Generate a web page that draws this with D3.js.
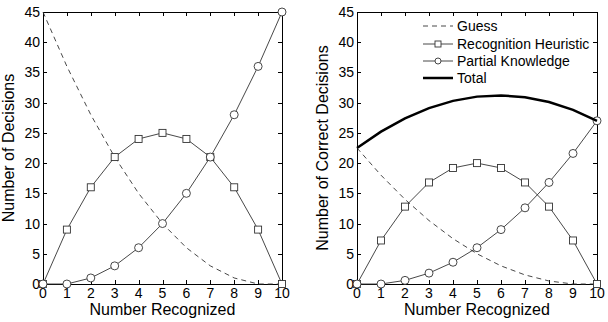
<!DOCTYPE html>
<html><head><meta charset="utf-8">
<script src="https://cdn.jsdelivr.net/npm/d3@7"></script>
<style>body{margin:0;background:#fff}svg{display:block}text{font-family:"Liberation Sans",Arial,sans-serif}</style>
</head><body><svg id="c" width="608" height="322"></svg>
<script>
const nRecognized = [0,1,2,3,4,5,6,7,8,9,10];
const guessCount = [45,36,28,21,15,10,6,3,1,0,0];
const recogCount = [0,9,16,21,24,25,24,21,16,9,0];
const partialCount = [0,0,1,3,6,10,15,21,28,36,45];
const guessCorrect = [22.5,18,14,10.5,7.5,5,3,1.5,0.5,0,0];
const recogCorrect = [0,7.2,12.8,16.8,19.2,20,19.2,16.8,12.8,7.2,0];
const partialCorrect = [0,0,0.6,1.8,3.6,6,9,12.6,16.8,21.6,27];
const totalCorrect = [22.5,25.2,27.4,29.1,30.3,31,31.2,30.9,30.1,28.8,27];
const yTicks = [0,5,10,15,20,25,30,35,40,45];
const xTicks = [0,1,2,3,4,5,6,7,8,9,10];
const legendLabels = ["Guess","Recognition Heuristic","Partial Knowledge","Total"];

const svg = d3.select("#c");
const lineCol = "#333";

function panel(x0, x1, yLabel, series) {
  const top = 12, bottom = 284;
  const x = d3.scaleLinear().domain([0,10]).range([x0,x1]);
  const y = d3.scaleLinear().domain([0,45]).range([bottom,top]);
  const g = svg.append("g");
  const tl = 4;
  const ax = g.append("g").attr("stroke","#000").attr("stroke-width",1);
  xTicks.forEach(t=>{
    const px = Math.round(x(t))+0.5;
    ax.append("line").attr("x1",px).attr("x2",px).attr("y1",bottom).attr("y2",bottom-tl);
    ax.append("line").attr("x1",px).attr("x2",px).attr("y1",top).attr("y2",top+tl);
  });
  yTicks.forEach(t=>{
    const py = Math.round(y(t))+0.5;
    ax.append("line").attr("x1",x0).attr("x2",x0+tl).attr("y1",py).attr("y2",py);
    ax.append("line").attr("x1",x1).attr("x2",x1-tl).attr("y1",py).attr("y2",py);
  });
  g.append("rect").attr("x",Math.round(x0)+0.5).attr("y",top+0.5).attr("width",Math.round(x1)-Math.round(x0)).attr("height",bottom-top)
    .attr("fill","none").attr("stroke","#000");
  xTicks.forEach(t=>{
    g.append("text").attr("x",x(t)).attr("y",bottom+14).attr("text-anchor","middle").attr("font-size",14).text(t);
  });
  yTicks.forEach(t=>{
    g.append("text").attr("x",x0-3).attr("y",y(t)+5).attr("text-anchor","end").attr("font-size",14).text(t);
  });
  g.append("text").attr("x",(x0+x1)/2).attr("y",bottom+31).attr("text-anchor","middle").attr("font-size",16).text("Number Recognized");
  g.append("text").attr("transform",`translate(${x0-29},${(top+bottom)/2}) rotate(-90)`).attr("text-anchor","middle").attr("font-size",16).text(yLabel);

  const line = d3.line().x((d,i)=>x(nRecognized[i])).y(d=>y(d));
  series.forEach(s=>{
    g.append("path").attr("d",line(s.values)).attr("fill","none").attr("stroke", s.bold?"#000":lineCol)
      .attr("stroke-width", s.bold?2.5:0.9).attr("stroke-dasharray", s.dash?"5,4":null);
    if (s.marker==="square") {
      g.selectAll(null).data(s.values).enter().append("rect")
        .attr("x",(d,i)=>x(nRecognized[i])-3.5).attr("y",d=>y(d)-3.5).attr("width",7).attr("height",7)
        .attr("fill","#fff").attr("stroke",lineCol).attr("stroke-width",0.9);
    } else if (s.marker==="circle") {
      g.selectAll(null).data(s.values).enter().append("circle")
        .attr("cx",(d,i)=>x(nRecognized[i])).attr("cy",d=>y(d)).attr("r",4)
        .attr("fill","#fff").attr("stroke",lineCol).attr("stroke-width",0.9);
    }
  });
  return {x,y,g};
}

panel(43, 282, "Number of Decisions", [
  {values:guessCount, dash:true},
  {values:recogCount, marker:"square"},
  {values:partialCount, marker:"circle"}
]);
panel(357, 597, "Number of Correct Decisions", [
  {values:guessCorrect, dash:true},
  {values:recogCorrect, marker:"square"},
  {values:partialCorrect, marker:"circle"},
  {values:totalCorrect, bold:true}
]);

const lg = svg.append("g");
const ly = [26,44,61,78];
legendLabels.forEach((lab,i)=>{
  const yy = ly[i];
  const l = lg.append("line").attr("x1",423).attr("x2",453).attr("y1",yy).attr("y2",yy)
    .attr("stroke", i===3?"#000":lineCol).attr("stroke-width", i===3?2.5:0.9);
  if (i===0) l.attr("stroke-dasharray","5,4");
  if (i===1) lg.append("rect").attr("x",435).attr("y",yy-3).attr("width",6).attr("height",6).attr("fill","#fff").attr("stroke",lineCol).attr("stroke-width",0.9);
  if (i===2) lg.append("circle").attr("cx",438).attr("cy",yy).attr("r",3).attr("fill","#fff").attr("stroke",lineCol).attr("stroke-width",0.9);
  lg.append("text").attr("x",457).attr("y",yy+5).attr("font-size",14).text(lab);
});
</script></body></html>
